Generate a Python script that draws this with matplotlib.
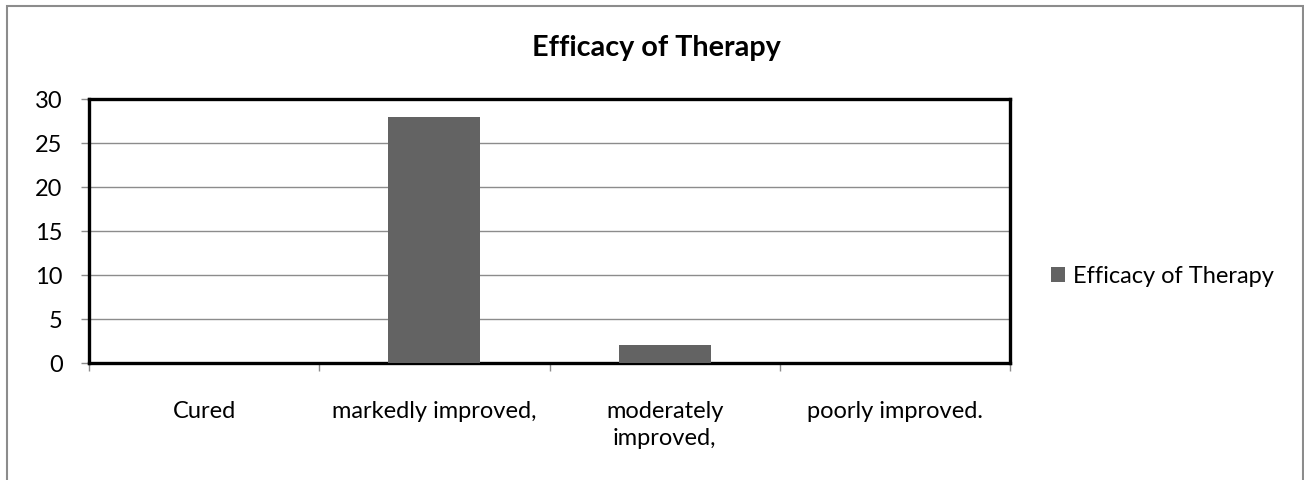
import matplotlib
matplotlib.use("Agg")
import matplotlib.pyplot as plt
from matplotlib.patches import Rectangle

# data
categories = ["Cured", "markedly improved,", "moderately\nimproved,", "poorly improved."]
values = [0, 28, 2, 0]
series_name = "Efficacy of Therapy"
chart_title = "Efficacy of Therapy"
yticks = [0, 5, 10, 15, 20, 25, 30]

plt.rcParams['font.family'] = ['Lato', 'DejaVu Sans']

W, H = 1304, 481
fig = plt.figure(figsize=(W / 100, H / 100), dpi=100)
fig.patch.set_facecolor("white")

# plot area position in pixels (left, top, right, bottom)
l, t, r, b = 89, 100, 1010, 364
ax = fig.add_axes([l / W, 1 - b / H, (r - l) / W, (b - t) / H])

x = list(range(len(categories)))
bars = ax.bar(x, values, width=0.4, color="#636363", label=series_name, zorder=3)

ax.set_xlim(-0.5, len(categories) - 0.5)
ax.set_ylim(0, 30)
ax.set_yticks(yticks)
ax.yaxis.grid(True, color="#8c8c8c", linewidth=1.0, zorder=0)
ax.set_axisbelow(True)

# category boundaries as major ticks, labels on minor ticks
ax.set_xticks([i - 0.5 for i in range(len(categories) + 1)])
ax.set_xticklabels([])
ax.set_xticks(x, minor=True)
ax.set_xticklabels(categories, minor=True, fontsize=17, linespacing=1.3)
ax.tick_params(axis="x", which="major", direction="out", length=6, color="#8c8c8c", width=1)
ax.tick_params(axis="x", which="minor", length=0, pad=27)
ax.tick_params(axis="y", direction="out", length=6, color="#8c8c8c", width=1, labelsize=17, pad=13)

for s in ax.spines.values():
    s.set_linewidth(2.4)
    s.set_color("black")

fig.text(656 / W, 1 - 48 / H, chart_title, ha="center", va="center",
         fontsize=20.7, fontweight="bold")

fig.legend(handles=[bars], labels=[series_name], loc="center left",
           bbox_to_anchor=(1051 / W, 1 - 277 / H), frameon=False,
           fontsize=17, handlelength=0.6, handleheight=0.6,
           handletextpad=0.34, borderpad=0, borderaxespad=0)

# outer chart border
fig.patches.append(Rectangle((7 / W, -0.1), (1303 - 7) / W, 1.1 - 7 / H,
                             transform=fig.transFigure, fill=False,
                             edgecolor="#8c8c8c", linewidth=1.5))

fig.savefig("out.png", dpi=100)
